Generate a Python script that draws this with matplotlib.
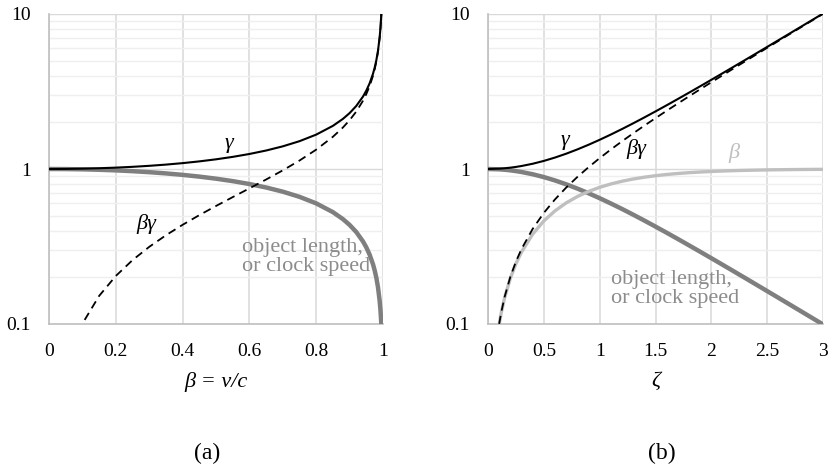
import matplotlib
matplotlib.use("Agg")
import matplotlib.pyplot as plt
from matplotlib import font_manager as fm
from matplotlib.ticker import FixedLocator, NullFormatter

# ---- Panel (a): values vs beta = v/c ----
beta_a = [0, 0.05, 0.1, 0.15, 0.2, 0.25, 0.3, 0.35, 0.4, 0.45, 0.5, 0.55, 0.6, 0.65,
          0.7, 0.75, 0.8, 0.85, 0.88, 0.9, 0.92, 0.94, 0.95, 0.96, 0.97, 0.975,
          0.98, 0.985, 0.99, 0.9925, 0.995, 0.9975]
gamma_a = [1, 1.00125, 1.00504, 1.01144, 1.02062, 1.0328, 1.04828, 1.06752, 1.09109,
           1.11979, 1.1547, 1.19737, 1.25, 1.3159, 1.40028, 1.51186, 1.66667, 1.89832,
           2.10538, 2.29416, 2.55155, 2.93105, 3.20256, 3.57143, 4.11345, 4.50035,
           5.02519, 5.7953, 7.0888, 8.1803, 10.0125, 14.151]
betagamma_a = [None, 0.05006, 0.1005, 0.15172, 0.20412, 0.2582, 0.31449, 0.37363,
               0.43644, 0.50391, 0.57735, 0.65855, 0.75, 0.85534, 0.9802, 1.13389,
               1.33333, 1.61357, 1.85273, 2.06474, 2.34743, 2.75519, 3.04243, 3.42857,
               3.99005, 4.38784, 4.92469, 5.70837, 7.01792, 8.11895, 9.96244, 14.1157]
length_a = [1, 0.99875, 0.99499, 0.98869, 0.9798, 0.96825, 0.95394, 0.93675, 0.91652,
            0.89303, 0.86603, 0.83516, 0.8, 0.75993, 0.71414, 0.66144, 0.6, 0.52678,
            0.47497, 0.43589, 0.39192, 0.34117, 0.31225, 0.28, 0.2431, 0.2222, 0.199,
            0.17255, 0.14107, 0.12225, 0.09987, 0.07067]

# ---- Panel (b): values vs rapidity zeta ----
zeta_b = [0, 0.1, 0.12, 0.15, 0.2, 0.25, 0.3, 0.4, 0.5, 0.6, 0.7, 0.8, 0.9, 1.0, 1.1,
          1.2, 1.3, 1.4, 1.5, 1.6, 1.7, 1.8, 1.9, 2.0, 2.1, 2.2, 2.3, 2.4, 2.5, 2.6,
          2.7, 2.8, 2.9, 3.0]
gamma_b = [1, 1.005, 1.0072, 1.01127, 1.02007, 1.03141, 1.04534, 1.08107, 1.12763,
           1.18547, 1.25517, 1.33743, 1.43309, 1.54308, 1.66852, 1.81066, 1.97091,
           2.1509, 2.35241, 2.57746, 2.82832, 3.10747, 3.41773, 3.7622, 4.14431,
           4.56791, 5.03722, 5.55695, 6.13229, 6.769, 7.47347, 8.25273, 9.11458, 10.06766]
betagamma_b = [None, 0.10017, 0.12029, 0.15056, 0.20134, 0.25261, 0.30452, 0.41075,
               0.5211, 0.63665, 0.75858, 0.88811, 1.02652, 1.1752, 1.33565, 1.50946,
               1.69838, 1.9043, 2.12928, 2.37557, 2.64563, 2.94217, 3.26816, 3.62686,
               4.02186, 4.45711, 4.93696, 5.46623, 6.0502, 6.69473, 7.40626, 8.19192,
               9.05956, 10.01787]
beta_b = [None, 0.09967, 0.11943, 0.14889, 0.19738, 0.24492, 0.29131, 0.37995, 0.46212,
          0.53705, 0.60437, 0.66404, 0.7163, 0.76159, 0.8005, 0.83365, 0.86172, 0.88535,
          0.90515, 0.92167, 0.93541, 0.94681, 0.95624, 0.96403, 0.97045, 0.97574,
          0.9801, 0.98367, 0.98661, 0.98903, 0.99101, 0.99263, 0.99396, 0.99505]
length_b = [1, 0.99502, 0.99283, 0.98886, 0.98033, 0.96954, 0.95663, 0.92501, 0.88682,
            0.84355, 0.79671, 0.74771, 0.69779, 0.64805, 0.59933, 0.55229, 0.50738,
            0.46492, 0.4251, 0.38798, 0.35357, 0.3218, 0.29259, 0.2658, 0.2413,
            0.21892, 0.19852, 0.17996, 0.16307, 0.14773, 0.13381, 0.12117, 0.10972, 0.09933]

xticks_a = [0, 0.2, 0.4, 0.6, 0.8, 1]
xticklabels_a = ['0', '0.2', '0.4', '0.6', '0.8', '1']
xticks_b = [0, 0.5, 1, 1.5, 2, 2.5, 3]
xticklabels_b = ['0', '0.5', '1', '1.5', '2', '2.5', '3']
yticks = [0.1, 1, 10]
yticklabels = ['0.1', '1', '10']


def clean(xs, ys):
    px, py = [], []
    for x, y in zip(xs, ys):
        if y is not None:
            px.append(x)
            py.append(y)
    return px, py


SERIF = 'Liberation Serif'
FP_TICK = fm.FontProperties(family=SERIF, size=14)
FP_NOTE = fm.FontProperties(family=SERIF, size=16)
FP_CAP = fm.FontProperties(family=SERIF, size=17)
FPI = fm.FontProperties(family=SERIF, style='italic', size=16)
GRID_MAJ = '#d9d9d9'
GRID_MIN = '#efefef'
DARK_GRAY = '#7f7f7f'
LIGHT_GRAY = '#bfbfbf'
TEXT_GRAY = '#8c8c8c'

fig = plt.figure(figsize=(8.31, 4.70), dpi=100)
ax_a = fig.add_axes([49 / 831, 1 - 324 / 470, 334 / 831, 310 / 470])
ax_b = fig.add_axes([488 / 831, 1 - 324 / 470, 335 / 831, 310 / 470])


def style(ax, xticks, xlabels, xmax):
    ax.set_yscale('log')
    ax.set_ylim(0.1, 10)
    ax.set_xlim(0, xmax)
    ax.yaxis.set_major_locator(FixedLocator(yticks))
    ax.set_yticklabels(yticklabels, fontproperties=FP_TICK)
    minors = [m * d for d in (0.1, 1) for m in range(2, 10)]
    ax.yaxis.set_minor_locator(FixedLocator(minors))
    ax.yaxis.set_minor_formatter(NullFormatter())
    ax.set_xticks(xticks)
    ax.set_xticklabels(xlabels, fontproperties=FP_TICK)
    ax.tick_params(which='both', length=0)
    ax.tick_params(axis='y', pad=13)
    ax.tick_params(axis='x', pad=14)
    ax.grid(True, which='minor', axis='y', color=GRID_MIN, lw=1.0, zorder=0)
    ax.grid(True, which='major', axis='y', color=GRID_MAJ, lw=1.0, zorder=0)
    ax.grid(True, which='major', axis='x', color=GRID_MAJ, lw=1.1, zorder=0)
    for s in ('top', 'right'):
        ax.spines[s].set_visible(False)
    for s in ('left', 'bottom'):
        ax.spines[s].set_color(LIGHT_GRAY)
        ax.spines[s].set_linewidth(1.2)
    ax.set_axisbelow(True)


style(ax_a, xticks_a, xticklabels_a, 1)
style(ax_b, xticks_b, xticklabels_b, 3)

# Panel (a) curves
ax_a.plot(*clean(beta_a, length_a), color=DARK_GRAY, lw=3.2, solid_capstyle='round', zorder=3)
ax_a.plot(*clean(beta_a, betagamma_a), color='black', lw=1.3, ls=(0, (4.5, 3)), zorder=4)
ax_a.plot(*clean(beta_a, gamma_a), color='black', lw=1.5, zorder=5)

ax_a.text(0.54, 1.45, 'γ', fontproperties=FPI, ha='center', va='center')
ax_a.text(0.29, 0.44, 'βγ', fontproperties=FPI, ha='center', va='center')
ax_a.text(0.578, 0.272, 'object length,\nor clock speed', fontproperties=FP_NOTE,
          color=TEXT_GRAY, ha='left', va='center', linespacing=1.0)
ax_a.set_xlabel('β = v/c', fontproperties=FPI, labelpad=8)

# Panel (b) curves
ax_b.plot(*clean(zeta_b, length_b), color=DARK_GRAY, lw=3.2, solid_capstyle='round', zorder=3)
ax_b.plot(*clean(zeta_b, beta_b), color=LIGHT_GRAY, lw=2.4, solid_capstyle='round', zorder=3)
ax_b.plot(*clean(zeta_b, betagamma_b), color='black', lw=1.3, ls=(0, (4.5, 3)), zorder=4)
ax_b.plot(*clean(zeta_b, gamma_b), color='black', lw=1.5, zorder=5)

ax_b.text(0.69, 1.52, 'γ', fontproperties=FPI, ha='center', va='center')
ax_b.text(1.33, 1.34, 'βγ', fontproperties=FPI, ha='center', va='center')
ax_b.text(2.2, 1.27, 'β', fontproperties=FPI, color=LIGHT_GRAY, ha='center', va='center')
ax_b.text(1.1, 0.168, 'object length,\nor clock speed', fontproperties=FP_NOTE,
          color=TEXT_GRAY, ha='left', va='center', linespacing=1.0)
ax_b.set_xlabel('ζ', fontproperties=FPI, labelpad=8)

fig.text(207 / 831, 1 - 453 / 470, '(a)', fontproperties=FP_CAP, ha='center', va='center')
fig.text(662 / 831, 1 - 453 / 470, '(b)', fontproperties=FP_CAP, ha='center', va='center')

fig.savefig('out.png', dpi=100)
